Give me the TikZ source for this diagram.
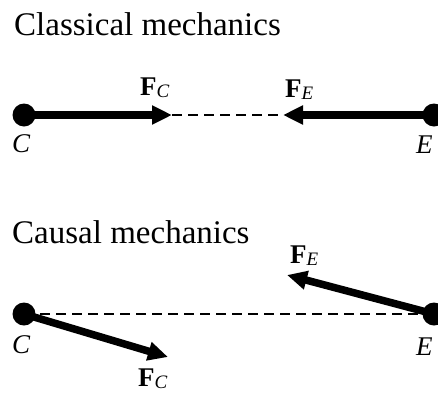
\documentclass[tikz,border=0pt]{standalone}
\usepackage{fontspec}
\setmainfont{Liberation Serif}
\usetikzlibrary{arrows.meta}
\tikzset{
  x=1pt, y=1pt,
  force/.style={line width=7.5pt, -{Triangle[length=20pt,width=18pt]}},
  link/.style={line width=2.5pt, dash pattern=on 10pt off 6pt},
  dot/.style={circle, fill=black, inner sep=0pt, minimum size=23pt},
  title/.style={inner sep=0pt, anchor=base west, font=\fontsize{33}{38}\selectfont},
  pt/.style={inner sep=0pt, anchor=base west, font=\fontsize{27}{30}\selectfont\itshape},
  flab/.style={inner sep=0pt, anchor=base west, font=\fontsize{27}{30}\selectfont}
}
\newcommand{\fvec}[1]{{\bfseries F}\raisebox{-2.5pt}{\fontsize{19}{20}\selectfont\itshape #1}}
\begin{document}
\begin{tikzpicture}
\useasboundingbox (0,0) rectangle (438,-394);
% Classical
\node[title] (t1) at (14,-35) {Classical mechanics};
\coordinate (C1) at (24,-115);
\coordinate (E1) at (434,-115);
\coordinate (tC1) at (172,-115);
\coordinate (tE1) at (283,-115);
\draw[link] (tC1) -- (tE1);
\draw[force] (C1) -- (tC1);
\draw[force] (E1) -- (tE1);
\node[dot] (dC1) at (C1) {};
\node[dot] (dE1) at (E1) {};
\node[pt] (lC1) at (12,-152) {C};
\node[pt] (lE1) at (416,-153) {E};
\node[flab] (fC1) at (140,-95) {\fvec{C}};
\node[flab] (fE1) at (285,-97) {\fvec{E}};
% Causal
\node[title] (t2) at (12,-243) {Causal mechanics};
\coordinate (C2) at (24,-314);
\coordinate (E2) at (434,-314);
\coordinate (tC2) at (168,-357);
\coordinate (tE2) at (287,-275);
\draw[link] (C2) -- (E2);
\draw[force] (C2) -- (tC2);
\draw[force] (E2) -- (tE2);
\node[dot] (dC2) at (C2) {};
\node[dot] (dE2) at (E2) {};
\node[pt] (lC2) at (12,-353) {C};
\node[pt] (lE2) at (416,-355) {E};
\node[flab] (fC2) at (138,-386) {\fvec{C}};
\node[flab] (fE2) at (290,-263) {\fvec{E}};
\end{tikzpicture}
\end{document}
